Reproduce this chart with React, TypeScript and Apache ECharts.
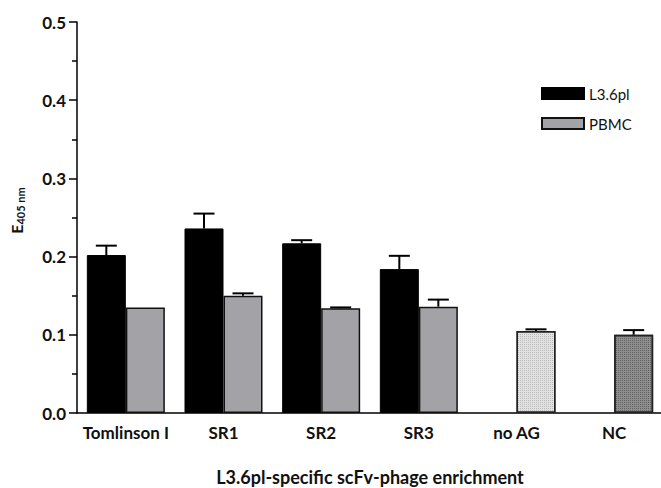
import React, { useEffect, useRef } from "react";
import * as echarts from "echarts";

const categories = ["Tomlinson I", "SR1", "SR2", "SR3", "no AG", "NC"];
const l36plValues = [0.202, 0.236, 0.217, 0.184, null, null];
const l36plErrors = [0.012, 0.019, 0.004, 0.017, null, null];
const pbmcValues = [0.135, 0.150, 0.134, 0.136, 0.105, 0.100];
const pbmcErrors = [0.0, 0.003, 0.001, 0.009, 0.002, 0.006];
const yTicks = [0, 0.1, 0.2, 0.3, 0.4, 0.5];

const FONT = "Lato";
const BAR_W = 39;

export default function App() {
  const ref = useRef<HTMLDivElement>(null);
  useEffect(() => {
    if (!ref.current) return;
    const chart = echarts.init(ref.current, null, { renderer: "svg" });

    const errData = (vals: (number | null)[], errs: (number | null)[]) =>
      vals
        .map((v, i) => (v == null || !errs[i] ? null : [i, v, errs[i] as number]))
        .filter((d) => d != null) as number[][];

    const errorSeries = (name: string, vals: (number | null)[], errs: (number | null)[], offset: number) => ({
      type: "custom",
      name: name + " err",
      data: errData(vals, errs),
      encode: { x: 0, y: 1 },
      z: 5,
      silent: true,
      renderItem: (params: any, api: any) => {
        const c = api.value(0);
        const v = api.value(1);
        const e = api.value(2);
        const base = api.coord([c, v]);
        const top = api.coord([c, v + e]);
        const x = base[0] + offset;
        return {
          type: "group",
          children: [
            {
              type: "line",
              shape: { x1: x, y1: base[1], x2: x, y2: top[1] },
              style: { stroke: "#000", lineWidth: 2 },
            },
            {
              type: "line",
              shape: { x1: x - 10.5, y1: top[1], x2: x + 10.5, y2: top[1] },
              style: { stroke: "#000", lineWidth: 2 },
            },
          ],
        };
      },
    });

    const pbmcData = pbmcValues.map((v, i) => {
      if (i === 4)
        return {
          value: v,
          itemStyle: {
            color: "#e2e2e2",
            borderColor: "#222",
            decal: { color: "rgba(0,0,0,0.18)", symbol: "rect", symbolSize: 1, dashArrayX: [1, 1], dashArrayY: [1, 1] },
          },
        };
      if (i === 5)
        return {
          value: v,
          itemStyle: {
            color: "#8e8e8e",
            borderColor: "#222",
            decal: { color: "rgba(0,0,0,0.3)", symbol: "rect", symbolSize: 1, dashArrayX: [1, 1], dashArrayY: [1, 1] },
          },
        };
      return v;
    });

    chart.setOption({
      animation: false,
      grid: { left: 77, right: -2, top: 22, bottom: 75, containLabel: false, outerBoundsMode: "none" },
      legend: {
        orient: "vertical",
        left: 536,
        top: 81,
        icon: "rect",
        itemWidth: 42,
        itemHeight: 11,
        itemGap: 15,
        data: ["L3.6pl", "PBMC"],
        textStyle: { fontFamily: FONT, fontSize: 15, color: "#111" },
      },
      xAxis: {
        type: "category",
        data: categories,
        axisLine: { show: true, lineStyle: { color: "#000", width: 1.5 } },
        axisTick: { show: false },
        axisLabel: { fontFamily: FONT, fontWeight: "bold", fontSize: 17, color: "#111", margin: 11, interval: 0 },
        name: "L3.6pl-specific scFv-phage enrichment",
        nameLocation: "middle",
        nameGap: 55,
        nameTextStyle: { fontFamily: FONT, fontWeight: "bold", fontSize: 18, color: "#111" },
      },
      yAxis: {
        type: "value",
        min: yTicks[0],
        max: yTicks[yTicks.length - 1],
        interval: 0.1,
        axisLine: { show: true, lineStyle: { color: "#000", width: 1.5 } },
        axisTick: { show: true, length: 8, lineStyle: { color: "#000", width: 1.5 } },
        minorTick: { show: true, splitNumber: 2, length: 5, lineStyle: { color: "#000", width: 1.5 } },
        splitLine: { show: false },
        axisLabel: {
          fontFamily: FONT,
          fontWeight: "bold",
          fontSize: 17,
          color: "#111",
          margin: 11,
          formatter: (v: number) => v.toFixed(1),
        },
        name: "{e|E}{s|405 nm}",
        nameLocation: "middle",
        nameGap: 51,
        nameTextStyle: {
          padding: [0, 0, 0, 14],
          rich: {
            e: { fontFamily: FONT, fontWeight: "bold", fontSize: 16, color: "#111" },
            s: { fontFamily: FONT, fontWeight: "bold", fontSize: 11, color: "#111", padding: [8, 0, 0, 0] },
          },
        },
      },
      series: [
        {
          type: "bar",
          name: "L3.6pl",
          data: l36plValues,
          barWidth: BAR_W,
          barGap: "0%",
          itemStyle: { color: "#000", borderColor: "#000", borderWidth: 1 },
        },
        {
          type: "bar",
          name: "PBMC",
          data: pbmcData,
          barWidth: BAR_W,
          barGap: "0%",
          itemStyle: { color: "#a3a2a7", borderColor: "#111", borderWidth: 1.5 },
        },
        errorSeries("L3.6pl", l36plValues, l36plErrors, -BAR_W / 2),
        errorSeries("PBMC", pbmcValues, pbmcErrors, BAR_W / 2),
      ],
    });
    return () => chart.dispose();
  }, []);
  return <div ref={ref} style={{ position: "absolute", left: 0, top: 0, width: 661, height: 488 }} />;
}
